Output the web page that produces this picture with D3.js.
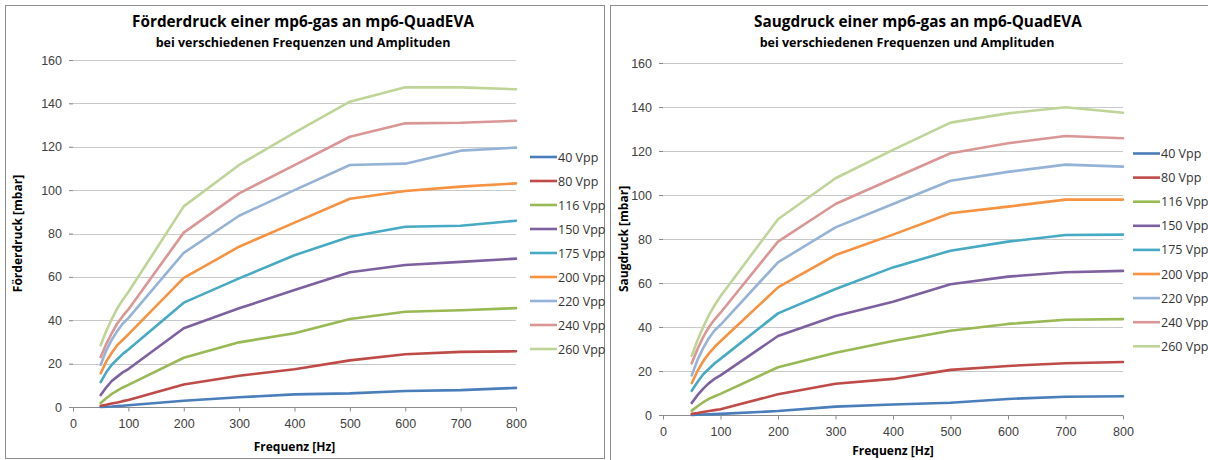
<!DOCTYPE html>
<html><head><meta charset="utf-8">
<script src="https://cdn.jsdelivr.net/npm/d3@7"></script>
<style>
html,body{margin:0;padding:0;background:#fff;}
svg{display:block;font-family:"Open Sans","DejaVu Sans",sans-serif;}
</style></head>
<body><svg id="c" width="1208" height="460"></svg>
<script>
// ---- data ----
const frequencies = [50,60,70,80,90,100,200,300,400,500,600,700,800];
const seriesNames = ["40 Vpp","80 Vpp","116 Vpp","150 Vpp","175 Vpp","200 Vpp","220 Vpp","240 Vpp","260 Vpp"];
const xTicks = [0,100,200,300,400,500,600,700,800];
const yTicks = [0,20,40,60,80,100,120,140,160];

const foerder40  = [0,0.1,0.2,0.4,0.6,0.8,2.9,4.5,5.8,6.3,7.4,7.8,8.8];
const foerder80  = [0.6,1,1.6,2.1,2.7,3.2,10.4,14.4,17.4,21.5,24.3,25.4,25.7];
const foerder116 = [1.8,4,6,7.5,9,10.2,22.7,29.8,34,40.6,43.9,44.6,45.6];
const foerder150 = [5.5,9,12,14,16,17.5,36.3,45.5,53.9,62.1,65.5,66.9,68.4];
const foerder175 = [11.5,16,19.5,22,24.5,26.5,48.1,59.3,70,78.5,83.1,83.6,85.9];
const foerder200 = [15.5,21,25,28.5,31,33.5,59.5,73.9,85,96,99.6,101.6,103.1];
const foerder220 = [19.5,26,31,35,38.5,41,71.1,88.2,100,111.6,112.2,118.2,119.6];
const foerder240 = [23,29,34,38.5,42,45,80.4,98.5,111.5,124.6,130.8,131.1,132];
const foerder260 = [28.5,35,40.5,45.5,49.5,53,92.5,111.6,126.5,140.8,147.4,147.4,146.5];

const saug40  = [0,0.1,0.2,0.3,0.4,0.5,1.8,3.8,4.8,5.6,7.3,8.3,8.5];
const saug80  = [0.5,0.9,1.4,1.8,2.2,2.6,9.4,14.2,16.4,20.5,22.3,23.5,24.1];
const saug116 = [2,4,5.8,7.3,8.5,9.6,21.7,28.3,33.6,38.3,41.4,43.3,43.6];
const saug150 = [5.5,9,12,14.5,16.5,18,35.9,45,51.5,59.4,62.9,64.9,65.5];
const saug175 = [11,15,18.5,21,23.5,25.5,46.2,57.3,67.1,74.7,78.8,81.8,82];
const saug200 = [14.5,20,24.5,28,31,33.5,58,72.7,82,91.7,94.7,97.9,97.9];
const saug220 = [18,25,30.5,35,38.5,41,69.4,85.3,95.9,106.5,110.5,113.8,112.9];
const saug240 = [23.5,30,35.5,40,43.5,46.5,78.8,95.9,107.5,119,123.5,126.8,125.8];
const saug260 = [27,34,40,45.5,50,54,89,107.6,120.5,132.9,137.1,139.9,137.4];

const colors = ["#4A7EBB","#BE4B48","#98B954","#7D60A0","#46AAC5","#F69240","#95B3D7","#D99694","#BFD598"];

const charts = [
  {title:"Förderdruck einer mp6-gas an mp6-QuadEVA", sub:"bei verschiedenen Frequenzen und Amplituden",
   yTitle:"Förderdruck [mbar]", data:[foerder40,foerder80,foerder116,foerder150,foerder175,foerder200,foerder220,foerder240,foerder260],
   frame:[5,5,599,453], titleX:303, subX:303, titleY:27, subY:47,
   plot:{l:73,r:516,t:60,b:407}, yTitleX:18, xTitleY:451, xLabY:428,
   legX:530, legY0:157, legDy:24},
  {title:"Saugdruck einer mp6-gas an mp6-QuadEVA", sub:"bei verschiedenen Frequenzen und Amplituden",
   yTitle:"Saugdruck [mbar]", data:[saug40,saug80,saug116,saug150,saug175,saug200,saug220,saug240,saug260],
   frame:[610,5,620,470], titleX:918, subX:907, titleY:27, subY:47,
   plot:{l:663,r:1123,t:63,b:415}, yTitleX:624, xTitleY:455, xLabY:436,
   legX:1133, legY0:153.5, legDy:24.1}
];

const svg = d3.select("#c");

charts.forEach(c => {
  const g = svg.append("g");
  g.append("rect").attr("x",c.frame[0]+0.5).attr("y",c.frame[1]+0.5)
    .attr("width",c.frame[2]).attr("height",c.frame[3])
    .attr("fill","#fff").attr("stroke","#8c8c8c").attr("stroke-width",1);

  const x = d3.scaleLinear().domain([0,800]).range([c.plot.l,c.plot.r]);
  const y = d3.scaleLinear().domain([0,160]).range([c.plot.b,c.plot.t]);

  // gridlines
  g.append("g").selectAll("line").data(yTicks.filter(v=>v>0)).join("line")
    .attr("x1",c.plot.l-4).attr("x2",c.plot.r)
    .attr("y1",d=>Math.round(y(d))+0.5).attr("y2",d=>Math.round(y(d))+0.5)
    .attr("stroke","#c9c9c9").attr("stroke-width",1);

  // y axis labels
  const ya = g.append("g").attr("transform",`translate(${c.plot.l},0)`)
    .call(d3.axisLeft(y).tickValues(yTicks).tickSize(4).tickPadding(7).tickFormat(d3.format("d")));
  ya.select(".domain").remove();
  ya.selectAll("line").attr("stroke","#8c8c8c");
  ya.selectAll("text").attr("font-size",12.5).attr("fill","#404040").attr("font-family",null);

  // x axis
  const xa = g.append("g").attr("transform",`translate(0,${Math.round(y(0))+0.5})`)
    .call(d3.axisBottom(x).tickValues(xTicks).tickSize(4).tickSizeOuter(0).tickPadding(8));
  xa.select(".domain").attr("stroke","#8c8c8c").attr("d",`M${c.plot.l-4},0H${c.plot.r}`);
  xa.selectAll("line").attr("stroke","#8c8c8c");
  xa.selectAll("text").attr("font-size",12.5).attr("fill","#404040").attr("font-family",null);

  // lines
  const line = d3.line().x((d,i)=>x(frequencies[i])).y(d=>y(d));
  g.append("g").selectAll("path").data(c.data).join("path")
    .attr("d",d=>line(d)).attr("fill","none")
    .attr("stroke",(d,i)=>colors[i]).attr("stroke-width",2.6)
    .attr("stroke-linejoin","round").attr("stroke-linecap","round");

  // titles
  g.append("text").attr("x",c.titleX).attr("y",c.titleY).attr("text-anchor","middle")
    .attr("font-size",15.3).attr("font-weight","bold").attr("fill","#000").text(c.title);
  g.append("text").attr("x",c.subX).attr("y",c.subY).attr("text-anchor","middle")
    .attr("font-size",12.5).attr("font-weight","bold").attr("fill","#000").text(c.sub);

  // axis titles
  g.append("text").attr("x",(c.plot.l+c.plot.r)/2).attr("y",c.xTitleY).attr("text-anchor","middle")
    .attr("font-size",12).attr("font-weight","bold").attr("fill","#000").text("Frequenz [Hz]");
  g.append("text").attr("transform",`translate(${c.yTitleX+4},${(c.plot.t+c.plot.b)/2}) rotate(-90)`)
    .attr("text-anchor","middle").attr("font-size",12).attr("font-weight","bold").attr("fill","#000").text(c.yTitle);

  // legend
  const lg = g.append("g").selectAll("g").data(seriesNames).join("g")
    .attr("transform",(d,i)=>`translate(${c.legX},${c.legY0+i*c.legDy})`);
  lg.append("line").attr("x1",0).attr("x2",27).attr("y1",0).attr("y2",0)
    .attr("stroke",(d,i)=>colors[i]).attr("stroke-width",2.6);
  lg.append("text").attr("x",28).attr("y",4.5).attr("font-size",12.5).attr("fill","#333").text(d=>d);
});
</script></body></html>
